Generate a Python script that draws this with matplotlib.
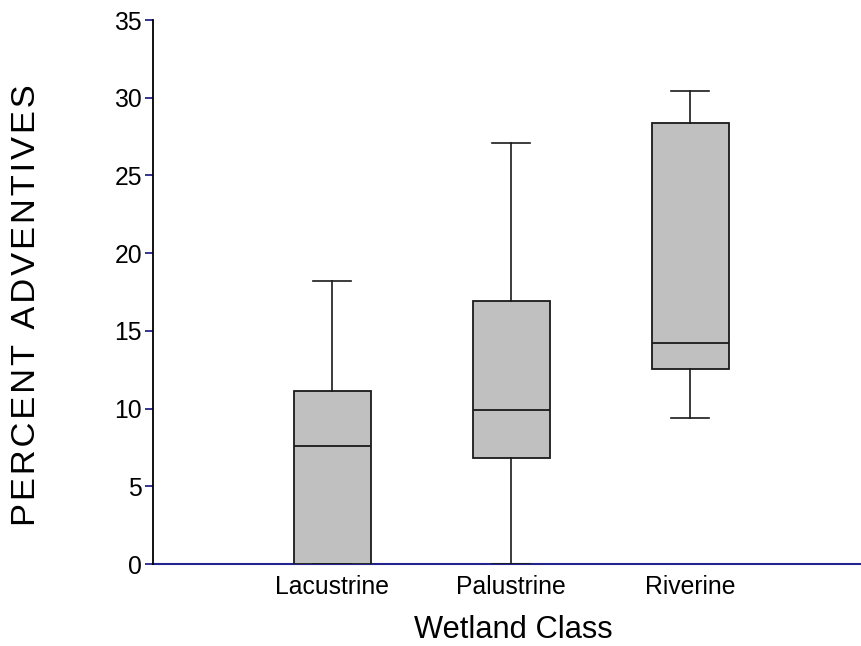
import matplotlib
matplotlib.use("Agg")
import matplotlib.pyplot as plt

plt.rcParams["font.family"] = ["Liberation Sans", "DejaVu Sans"]

# box statistics
categories = ["Lacustrine", "Palustrine", "Riverine"]
whislo = [0.0, 0.0, 9.4]
q1 = [0.0, 6.85, 12.55]
med = [7.6, 9.9, 14.2]
q3 = [11.1, 16.9, 28.4]
whishi = [18.2, 27.1, 30.4]

navy = "#24248f"

stats = []
for i in range(len(categories)):
    stats.append({
        "label": categories[i],
        "whislo": whislo[i],
        "q1": q1[i],
        "med": med[i],
        "q3": q3[i],
        "whishi": whishi[i],
        "fliers": [],
    })

fig = plt.figure(figsize=(8.62, 6.46), dpi=100)
ax = fig.add_axes([153 / 862, 1 - 564 / 646, 1 - 153 / 862, (564 - 20) / 646])

ax.bxp(
    stats,
    positions=[1, 2, 3],
    widths=0.43,
    capwidths=0.215,
    patch_artist=True,
    showfliers=False,
    boxprops=dict(facecolor="#c0c0c0", edgecolor="#1a1a1a", linewidth=1.3),
    medianprops=dict(color="#1a1a1a", linewidth=1.3),
    whiskerprops=dict(color="#1a1a1a", linewidth=1.2),
    capprops=dict(color="#1a1a1a", linewidth=1.2),
)

ax.set_xlim(0, 3.96)
ax.set_ylim(0, 35)
ax.set_yticks(range(0, 36, 5))

for side in ["top", "right"]:
    ax.spines[side].set_visible(False)
ax.spines["left"].set_color("black")
ax.spines["left"].set_linewidth(1.3)
ax.spines["bottom"].set_color(navy)
ax.spines["bottom"].set_linewidth(1.5)
ax.spines["bottom"].set_zorder(0)

ax.tick_params(axis="y", colors=navy, labelcolor="black", length=6, width=1.3,
               pad=2, labelsize=17.8)
ax.tick_params(axis="x", length=0, pad=8, labelsize=17.8)

fig.text(513 / 862, 1 - 638 / 646, "Wetland Class", fontsize=22.2,
         ha="center", va="baseline")
# the reference label is letter-spaced
ylabel = "\u200a".join("PERCENT ADVENTIVES")
fig.text(27 / 862, 1 - 305 / 646, ylabel, fontsize=24.8,
         rotation=90, ha="center", va="center")

fig.savefig("out.png", dpi=100)
